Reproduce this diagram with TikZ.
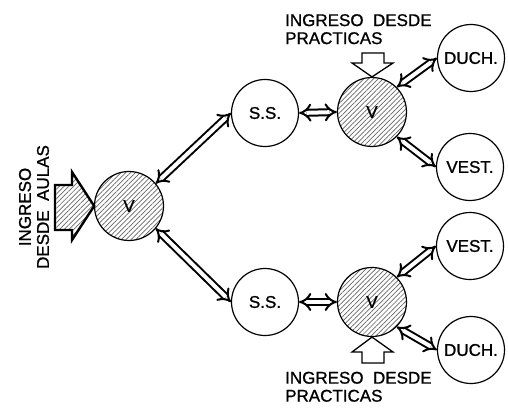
\documentclass[tikz,border=0pt]{standalone}
\usepackage{fontspec}
\setmainfont{Liberation Sans}[BoldFont={Liberation Sans}, BoldFeatures={FakeBold=1}]
\usetikzlibrary{arrows.meta, patterns.meta}

\begin{document}
\begin{tikzpicture}[x=1pt, y=-1pt,
    font=\fontsize{17}{18}\selectfont\bfseries,
    ring/.style={draw=black, line width=1.2pt, circle, inner sep=0pt},
    room/.style={ring, fill=white, minimum size=67pt},
    hub/.style={ring, minimum size=69pt, pattern={Lines[angle=45, distance=3.4pt, line width=0.7pt]}, pattern color=black!60},
    link/.style={double, double distance=4pt, line width=2pt, {Implies[length=7pt, width=17pt]}-{Implies[length=7pt, width=17pt]}},
    inlet/.style={draw=black, line width=2.4pt, line join=miter, pattern={Lines[angle=45, distance=3.4pt, line width=0.7pt]}, pattern color=black!60},
    hollow/.style={draw=black, line width=1.3pt, fill=white, line join=miter},
    lbl/.style={align=left, inner sep=0pt}
  ]
  \useasboundingbox (0,0) rectangle (508,409);

  % Vestibule from classrooms
  \node[hub] (vl) at (129,206) {V};

  % Upper wing
  \node[room] (sst) at (265,113) {S.S.};
  \node[hub] (vt) at (372,112) {V};
  \node[room] (ducht) at (471,58) {DUCH.};
  \node[room] (vestt) at (470,167) {VEST.};

  % Lower wing
  \node[room] (ssb) at (265,302) {S.S.};
  \node[hub] (vb) at (372,302) {V};
  \node[room] (vestb) at (470,246) {VEST.};
  \node[room] (duchb) at (471,350) {DUCH.};

  % Links
  \draw[link] (vl.40) -- (sst.west);
  \draw[link] (vl.-40) -- (ssb.west);
  \draw[link] (sst.east) -- (vt.west);
  \draw[link] (ssb.east) -- (vb.west);
  \draw[link] (vt.45) -- (ducht.west);
  \draw[link] (vt.-45) -- (vestt.west);
  \draw[link] (vb.45) -- (vestb.west);
  \draw[link] (vb.-45) -- (duchb.west);

  % Entrances
  \draw[inlet] (55,185) -- (72,185) -- (72,172) -- (vl.west) -- (72,240) -- (72,230) -- (55,230) -- cycle;
  \draw[hollow] (362,53) -- (384,53) -- (384,63) -- (393,63) -- (vt.north) -- (352,63) -- (362,63) -- cycle;
  \draw[hollow] (362,363) -- (384,363) -- (384,352) -- (393,352) -- (vb.south) -- (352,352) -- (362,352) -- cycle;

  % Labels
  \node[align=center, inner sep=0pt, rotate=90] (aulas) at (34,207) {INGRESO\\DESDE\ \ AULAS};
  \node[lbl, anchor=north west] (prt) at (285,14) {INGRESO\ \ DESDE\\PRACTICAS};
  \node[lbl, anchor=south west] (prb) at (285,402) {INGRESO\ \ DESDE\\PRACTICAS};
\end{tikzpicture}
\end{document}
